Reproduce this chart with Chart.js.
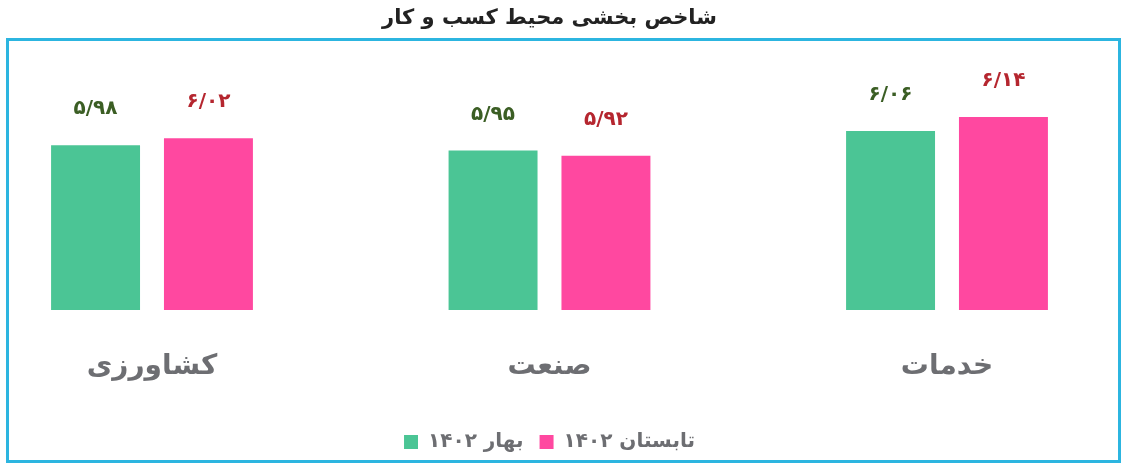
<!DOCTYPE html>
<html lang="fa">
<head>
<meta charset="utf-8">
<script src="https://cdn.jsdelivr.net/npm/chart.js@4"></script>
<style>
  body { margin: 0; background: #fff; }
  #wrap { position: relative; width: 1129px; height: 471px; }
  #frame {
    position: absolute; left: 6px; top: 38px; width: 1109px; height: 419px;
    border: 3px solid #2cb5e0; pointer-events: none;
  }
</style>
</head>
<body>
<div id="wrap">
  <canvas id="chart" width="1129" height="471"></canvas>
  <div id="frame"></div>
</div>
<script>
const TITLE = "شاخص بخشی محیط کسب و کار";
const categories = ["کشاورزی", "صنعت", "خدمات"];
const seriesNames = ["بهار ۱۴۰۲", "تابستان ۱۴۰۲"];
const spring = [5.98, 5.95, 6.06];
const summer = [6.02, 5.92, 6.14];

const FONT = "'DejaVu Sans', 'Noto Sans', sans-serif";

function toPersian(v) {
  const digits = "۰۱۲۳۴۵۶۷۸۹";
  return v.toFixed(2).replace(/\d/g, d => digits[d]).replace(".", "/");
}

// labels above the bars
const valueLabels = {
  id: "valueLabels",
  afterDatasetsDraw(chart) {
    const ctx = chart.ctx;
    ctx.save();
    ctx.font = "bold 20px " + FONT;
    ctx.textAlign = "center";
    ctx.textBaseline = "middle";
    chart.data.datasets.forEach((ds, i) => {
      chart.getDatasetMeta(i).data.forEach((bar, j) => {
        ctx.fillStyle = ds.labelColor;
        ctx.fillText(toPersian(ds.data[j]), bar.x, bar.y - 36);
      });
    });
    ctx.restore();
  }
};

const barClip = { left: false, right: false, top: false, bottom: 0 };

new Chart(document.getElementById("chart"), {
  type: "bar",
  data: {
    labels: categories,
    datasets: [
      {
        label: seriesNames[0],
        data: spring,
        backgroundColor: "#4bc595",
        labelColor: "#3b5e24",
        clip: barClip,
      },
      {
        label: seriesNames[1],
        data: summer,
        backgroundColor: "#ff48a0",
        labelColor: "#b5262f",
        clip: barClip,
      },
    ],
  },
  options: {
    responsive: false,
    animation: false,
    layout: { padding: { left: 152, right: 182, top: 0, bottom: 9 } },
    datasets: {
      bar: { categoryPercentage: 0.568, barPercentage: 0.788 },
    },
    scales: {
      x: {
        offset: false,
        grid: { display: false },
        border: { display: false },
        ticks: {
          color: "#6d6e72",
          font: { family: FONT, size: 28, weight: "bold", lineHeight: 0.93 },
          padding: 36,
        },
      },
      y: {
        display: false,
        min: 5.045,
        max: 6.4,
      },
    },
    plugins: {
      title: {
        display: true,
        text: TITLE,
        color: "#222",
        font: { family: FONT, size: 21, weight: "bold" },
        padding: { top: 6, bottom: 40 },
      },
      legend: {
        position: "bottom",
        labels: {
          color: "#6d6e72",
          font: { family: FONT, size: 20, weight: "bold" },
          boxWidth: 14,
          boxHeight: 14,
          padding: 16,
        },
      },
      tooltip: { enabled: false },
    },
  },
  plugins: [valueLabels],
});
</script>
</body>
</html>
